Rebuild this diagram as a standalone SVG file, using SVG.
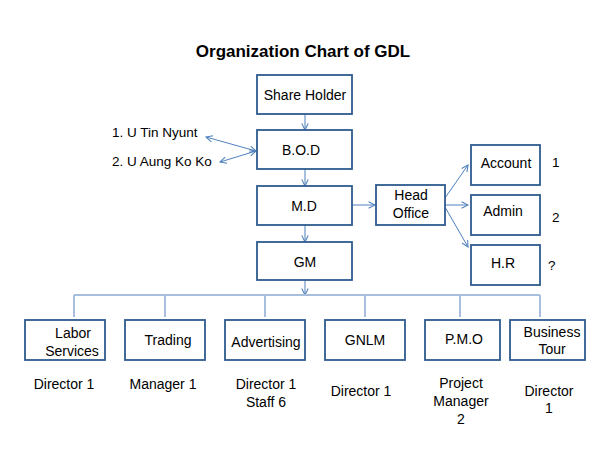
<svg xmlns="http://www.w3.org/2000/svg" width="600" height="450" viewBox="0 0 600 450">
<defs>
<marker id="arr" viewBox="0 0 10 10" refX="9" refY="5" markerWidth="8" markerHeight="8" orient="auto-start-reverse" markerUnits="userSpaceOnUse">
<path d="M1,1 L9,5 L1,9" fill="none" stroke="#4f81bd" stroke-width="1.3"/>
</marker>
</defs>
<style>
.box{fill:#fff;stroke:#2f5b8f;stroke-width:1.8}
.t{font-family:"Liberation Sans",Arial,sans-serif;font-size:14px;fill:#000;text-anchor:middle}
.l{font-family:"Liberation Sans",Arial,sans-serif;font-size:13.5px;fill:#000}
.c{fill:none;stroke:#4f81bd;stroke-width:1}
.bus{fill:none;stroke:#a7bfdc;stroke-width:2}
</style>
<rect width="600" height="450" fill="#fff"/>
<text x="303" y="57" style="font-family:'Liberation Sans',Arial,sans-serif;font-size:17px;font-weight:bold;text-anchor:middle">Organization Chart of GDL</text>

<g id="connectors">
<line class="c" x1="305" y1="114" x2="305" y2="130" marker-end="url(#arr)"/>
<line class="c" x1="305" y1="169" x2="305" y2="186" marker-end="url(#arr)"/>
<line class="c" x1="305" y1="225" x2="305" y2="242" marker-end="url(#arr)"/>
<line class="c" x1="305" y1="280" x2="305" y2="295" marker-end="url(#arr)"/>
<line class="c" x1="352" y1="205" x2="375" y2="205" marker-end="url(#arr)"/>
<line class="c" x1="445" y1="198" x2="468" y2="165" marker-end="url(#arr)"/>
<line class="c" x1="445" y1="205" x2="468" y2="205" marker-end="url(#arr)"/>
<line class="c" x1="445" y1="207" x2="468" y2="247" marker-end="url(#arr)"/>
<line class="c" x1="206" y1="137" x2="256" y2="151" marker-start="url(#arr)" marker-end="url(#arr)"/>
<line class="c" x1="220" y1="162" x2="256" y2="151" marker-start="url(#arr)" marker-end="url(#arr)"/>
<path class="bus" d="M74,295 H540 M74,295 V317 M165,295 V317 M265,295 V317 M365,295 V317 M460,295 V317 M540,295 V317"/>
</g>

<g id="shareholder"><rect class="box" x="257" y="75" width="95" height="39"/><text class="t" x="305" y="100">Share Holder</text></g>
<g id="bod"><rect class="box" x="257" y="130" width="95" height="39"/><text class="t" x="301" y="155">B.O.D</text></g>
<g id="md"><rect class="box" x="257" y="186" width="95" height="39"/><text class="t" x="304" y="211">M.D</text></g>
<g id="gm"><rect class="box" x="257" y="242" width="95" height="38"/><text class="t" x="305" y="267">GM</text></g>
<g id="headoffice"><rect class="box" x="376" y="185" width="69" height="40"/><text class="t" x="411" y="200">Head</text><text class="t" x="411" y="218">Office</text></g>
<g id="account"><rect class="box" x="471" y="145" width="69" height="40"/><text class="t" x="506" y="168">Account</text></g>
<g id="admin"><rect class="box" x="471" y="195" width="69" height="40"/><text class="t" x="503" y="216">Admin</text></g>
<g id="hr"><rect class="box" x="471" y="245" width="69" height="40"/><text class="t" x="503" y="268">H.R</text></g>
<text class="l" x="552" y="167">1</text>
<text class="l" x="552" y="222">2</text>
<text class="l" x="548" y="270">?</text>
<text class="l" x="112" y="137">1. U Tin Nyunt</text>
<text class="l" x="112" y="166">2. U Aung Ko Ko</text>

<g id="labor"><rect class="box" x="25" y="320" width="80" height="40"/><text class="t" x="73" y="338">Labor</text><text class="t" x="72" y="356">Services</text><text class="t" x="64" y="389">Director 1</text></g>
<g id="trading"><rect class="box" x="125" y="320" width="80" height="40"/><text class="t" x="168" y="345">Trading</text><text class="t" x="163" y="389">Manager 1</text></g>
<g id="advertising"><rect class="box" x="225" y="320" width="80" height="40"/><text class="t" x="266" y="347">Advertising</text><text class="t" x="266" y="389">Director 1</text><text class="t" x="266" y="407">Staff 6</text></g>
<g id="gnlm"><rect class="box" x="325" y="320" width="80" height="40"/><text class="t" x="365" y="345">GNLM</text><text class="t" x="361" y="396">Director 1</text></g>
<g id="pmo"><rect class="box" x="425" y="320" width="75" height="40"/><text class="t" x="464" y="344">P.M.O</text><text class="t" x="461" y="388">Project</text><text class="t" x="461" y="406">Manager</text><text class="t" x="461" y="424">2</text></g>
<g id="business"><rect class="box" x="510" y="320" width="75" height="40"/><text class="t" x="552" y="337">Business</text><text class="t" x="552" y="354">Tour</text><text class="t" x="549" y="396">Director</text><text class="t" x="549" y="413">1</text></g>
</svg>
